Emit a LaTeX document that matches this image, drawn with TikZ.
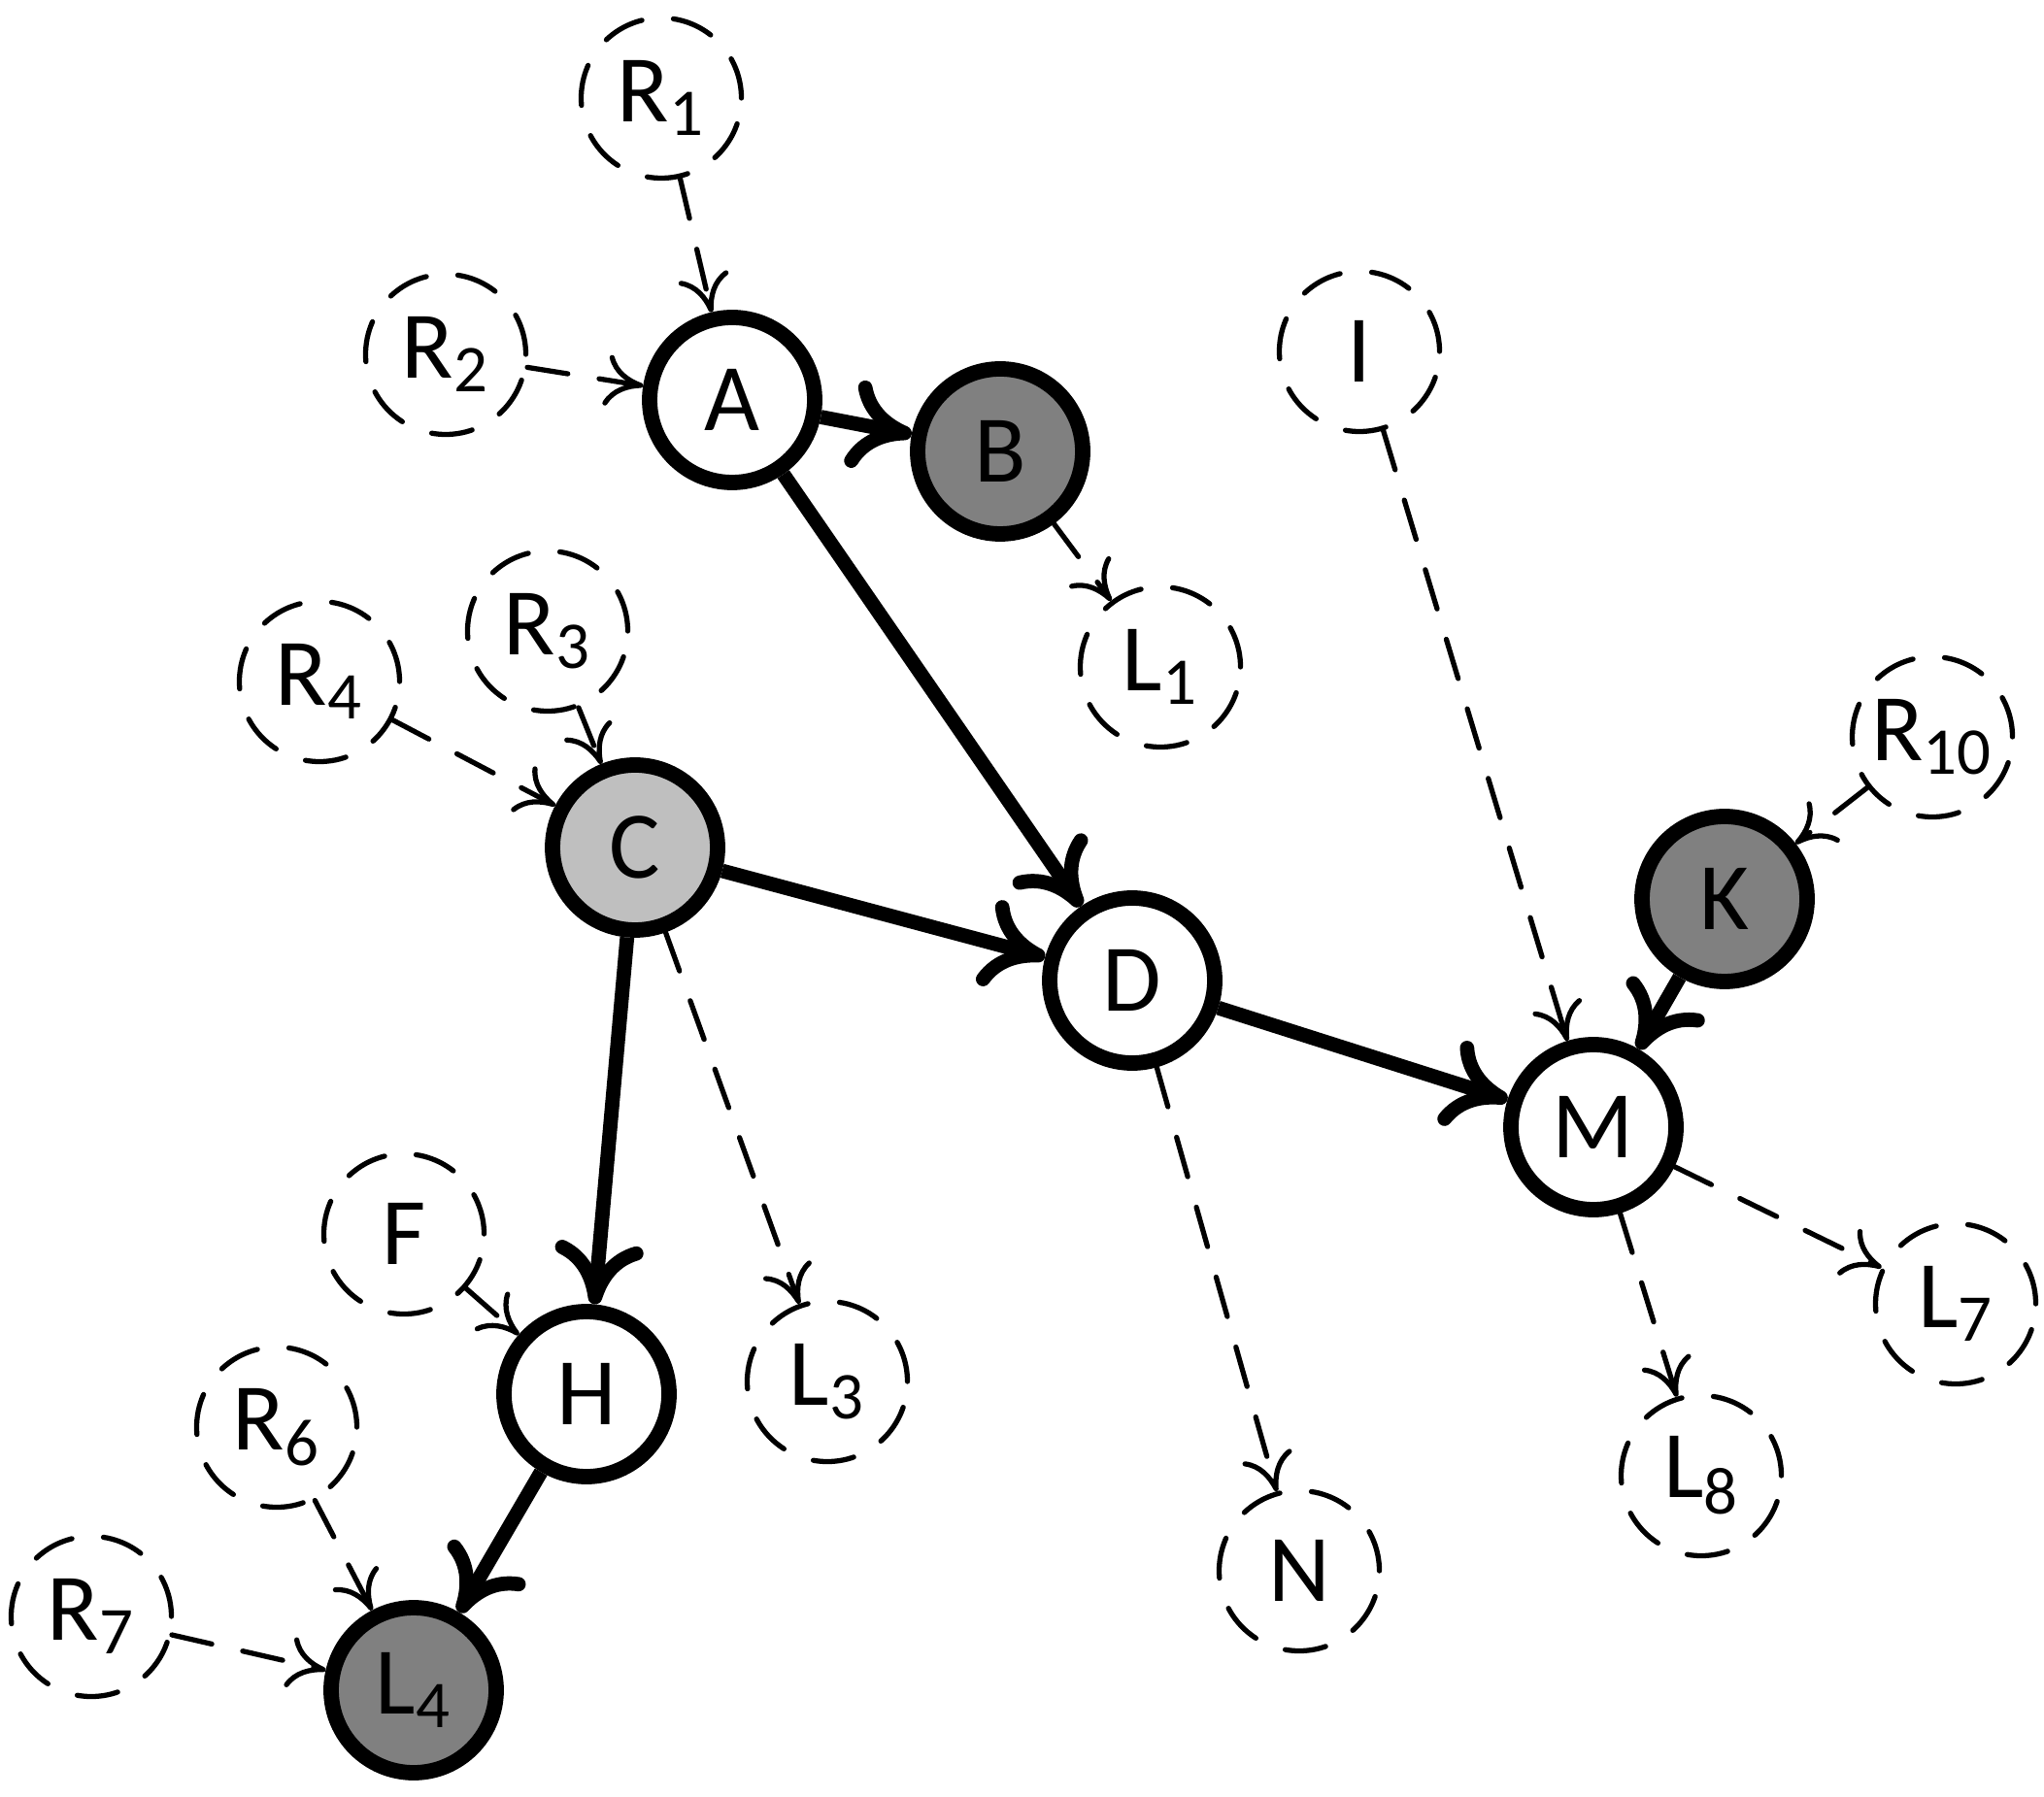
\documentclass[tikz,border=0pt]{standalone}
\usepackage{fontspec}
\setmainfont{Carlito}
\usepackage{xcolor}
\usetikzlibrary{arrows.meta}
\definecolor{darkfill}{gray}{0.5}
\definecolor{lightfill}{gray}{0.75}

\begin{document}
\begin{tikzpicture}[
  state/.style={draw, circle, line width=4.5pt, minimum size=1.70cm, inner sep=0pt, font=\fontsize{28}{30}\selectfont},
  hidden/.style={draw, circle, dash pattern=on 12pt off 9.3pt, line cap=round, line width=1.5pt, minimum size=1.65cm, inner sep=0pt, font=\fontsize{28}{30}\selectfont},
  dark/.style={state, fill=darkfill},
  light/.style={state, fill=lightfill},
  arrow/.style={line width=4.2pt, -{To[length=18pt, width=26pt]}},
  link/.style={line width=1.5pt, line cap=round, dash pattern=on 12pt off 9.3pt, -{To[length=11pt, width=15pt]}}
]
\useasboundingbox (0,0) rectangle (21.05,18.5);

\node[hidden] (r1) at (6.81,17.49) {R\textsubscript{1}};
\node[hidden] (r2) at (4.59,14.85) {R\textsubscript{2}};
\node[state] (a) at (7.54,14.38) {A};
\node[dark] (b) at (10.30,13.85) {B};
\node[hidden] (i) at (14.00,14.88) {I};
\node[hidden] (l1) at (11.95,11.63) {L\textsubscript{1}};
\node[hidden] (r4) at (3.29,11.48) {R\textsubscript{4}};
\node[hidden] (r3) at (5.64,12.00) {R\textsubscript{3}};
\node[light] (c) at (6.54,9.77) {C};
\node[state] (d) at (11.66,8.40) {D};
\node[hidden] (r10) at (19.90,10.91) {R\textsubscript{10}};
\node[dark] (k) at (17.76,9.24) {K};
\node[state] (m) at (16.41,6.89) {M};
\node[hidden] (f) at (4.16,5.79) {F};
\node[state] (h) at (6.04,4.14) {H};
\node[hidden] (l3) at (8.52,4.27) {L\textsubscript{3}};
\node[hidden] (l7) at (20.14,5.07) {L\textsubscript{7}};
\node[hidden] (l8) at (17.52,3.30) {L\textsubscript{8}};
\node[hidden] (n) at (13.38,2.32) {N};
\node[hidden] (r6) at (2.85,3.80) {R\textsubscript{6}};
\node[hidden] (r7) at (0.94,1.85) {R\textsubscript{7}};
\node[dark] (l4) at (4.26,1.09) {L\textsubscript{4}};

\draw[arrow] (a) -- (b);
\draw[arrow] (a) -- (d);
\draw[arrow] (c) -- (d);
\draw[arrow] (c) -- (h);
\draw[arrow] (d) -- (m);
\draw[arrow] (k) -- (m);
\draw[arrow] (h) -- (l4);

\draw[link] (r1) -- (a);
\draw[link] (r2) -- (a);
\draw[link] (b) -- (l1);
\draw[link] (r4) -- (c);
\draw[link] (r3) -- (c);
\draw[link] (c) -- (l3);
\draw[link] (i) -- (m);
\draw[link] (r10) -- (k);
\draw[link] (d) -- (n);
\draw[link] (m) -- (l7);
\draw[link] (m) -- (l8);
\draw[link] (f) -- (h);
\draw[link] (r6) -- (l4);
\draw[link] (r7) -- (l4);
\end{tikzpicture}
\end{document}
